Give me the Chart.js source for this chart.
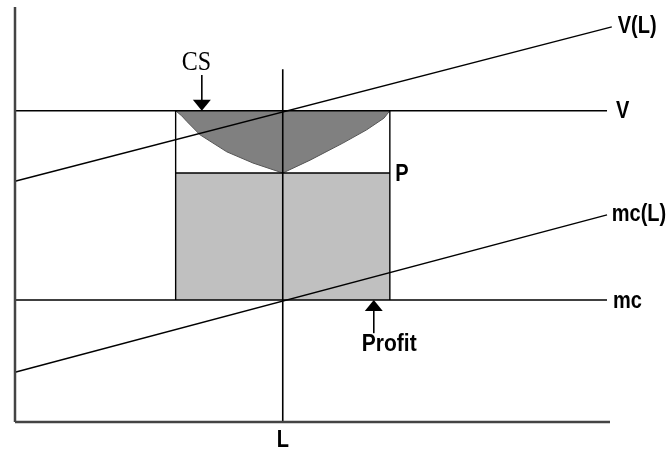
<!DOCTYPE html>
<html>
<head>
<meta charset="utf-8">
<script src="https://cdn.jsdelivr.net/npm/chart.js@4/dist/chart.umd.min.js"></script>
<style>
  body { margin: 0; background: #fff; }
  canvas { display: block; }
</style>
</head>
<body>
<canvas id="grafico" width="670" height="453"></canvas>
<script>
// niveles (unidades del grafico: eje x 0-10, eje y 0-10)
const qL = 4.5;
const qIzq = 2.7;
const qDer = 6.3;
const nivelV = 7.5;
const nivelP = 6.0;
const nivelMc = 2.94;
const finLineas = 9.95;

// curvas con pendiente
const vDeL = [{ x: 0, y: 5.8 }, { x: 10.03, y: 9.52 }];
const mcDeL = [{ x: 0, y: 1.2 }, { x: 9.95, y: 4.99 }];

// borde inferior del excedente del consumidor (CS)
const csX = [2.7, 2.8, 2.89, 3.11, 3.56, 4.0, 4.5, 4.96, 5.51, 5.91, 6.2, 6.3];
const csY = [7.5, 7.38, 7.24, 6.92, 6.51, 6.24, 6.0, 6.31, 6.72, 7.04, 7.32, 7.5];

const etiquetas = ['CS', 'V(L)', 'V', 'P', 'mc(L)', 'mc', 'Profit', 'L'];

const curvaCS = csX.map((x, i) => ({ x: x, y: csY[i] }));

function linea(puntos, color, ancho, extra) {
    return Object.assign({
        data: puntos,
        showLine: true,
        borderColor: color,
        borderWidth: ancho,
        pointRadius: 0,
        tension: 0,
        fill: false,
        clip: false,
        order: 1
    }, extra || {});
}

const datasets = [
    // ejes
    linea([{ x: 0, y: 0 }, { x: 0, y: 10 }], '#444', 2.5),
    linea([{ x: 0, y: 0 }, { x: 10, y: 0 }], '#444', 2.5),
    // horizontales
    linea([{ x: 0, y: nivelV }, { x: finLineas, y: nivelV }], '#000', 1.6),
    linea([{ x: 0, y: nivelMc }, { x: finLineas, y: nivelMc }], '#000', 1.6),
    linea([{ x: qIzq, y: nivelP }, { x: qDer, y: nivelP }], '#000', 1.6),
    // verticales
    linea([{ x: qL, y: 0 }, { x: qL, y: 8.5 }], '#000', 1.6),
    linea([{ x: qIzq, y: nivelMc }, { x: qIzq, y: nivelV }], '#000', 1.4),
    linea([{ x: qDer, y: nivelMc }, { x: qDer, y: nivelV }], '#000', 1.4),
    // V(L) y mc(L)
    linea(vDeL, '#000', 1.4),
    linea(mcDeL, '#000', 1.4),
    // areas
    linea(curvaCS, '#555', 1, { fill: { value: nivelV }, backgroundColor: '#808080', order: 2 }),
    linea([{ x: qIzq, y: nivelP }, { x: qDer, y: nivelP }], 'rgba(0,0,0,0)', 0,
        { fill: { value: nivelMc }, backgroundColor: '#c0c0c0', order: 3 })
];

// textos y flechas sobre el grafico
const rotulos = {
    id: 'rotulos',
    afterDatasetsDraw(chart) {
        const ctx = chart.ctx;
        const sx = chart.scales.x;
        const sy = chart.scales.y;
        const px = v => sx.getPixelForValue(v);
        const py = v => sy.getPixelForValue(v);

        // texto algo estirado en vertical, como en la figura original
        function texto(t, x, y, align, fuente) {
            ctx.save();
            ctx.font = fuente;
            ctx.fillStyle = '#000';
            ctx.textAlign = align;
            ctx.textBaseline = 'middle';
            ctx.translate(px(x), py(y));
            ctx.scale(1, 1.15);
            ctx.fillText(t, 0, 0);
            ctx.restore();
        }

        function flecha(x, y0, y1) {
            const x0 = px(x), a = py(y0), b = py(y1);
            const dir = b > a ? 1 : -1;
            ctx.save();
            ctx.strokeStyle = '#000';
            ctx.fillStyle = '#000';
            ctx.lineWidth = 1.6;
            ctx.beginPath();
            ctx.moveTo(x0, a);
            ctx.lineTo(x0, b - dir * 8);
            ctx.stroke();
            ctx.beginPath();
            ctx.moveTo(x0, b);
            ctx.lineTo(x0 - 9, b - dir * 11);
            ctx.lineTo(x0 + 9, b - dir * 11);
            ctx.closePath();
            ctx.fill();
            ctx.restore();
        }

        const sans = 'bold 20px "Liberation Sans", Arial, sans-serif';
        texto(etiquetas[0], 3.05, 8.65, 'center', '24px "Liberation Serif", "Times New Roman", serif');
        texto(etiquetas[1], 10.13, 9.52, 'left', sans);
        texto(etiquetas[2], 10.1, 7.47, 'left', sans);
        texto(etiquetas[3], 6.39, 5.95, 'left', sans);
        texto(etiquetas[4], 10.03, 4.99, 'left', sans);
        texto(etiquetas[5], 10.05, 2.89, 'left', sans);
        texto(etiquetas[6], 6.29, 1.86, 'center', 'bold 21px "Liberation Sans", Arial, sans-serif');
        texto(etiquetas[7], qL, -0.46, 'center', sans);

        flecha(3.14, 8.36, nivelV);
        flecha(6.03, 2.14, nivelMc);
    }
};

new Chart(document.getElementById('grafico'), {
    type: 'scatter',
    data: { datasets: datasets },
    options: {
        responsive: false,
        animation: false,
        layout: { padding: { left: 15, right: 60, top: 7, bottom: 31 } },
        scales: {
            x: { type: 'linear', min: 0, max: 10, display: false },
            y: { type: 'linear', min: 0, max: 10, display: false }
        },
        plugins: {
            legend: { display: false },
            tooltip: { enabled: false }
        }
    },
    plugins: [rotulos]
});
</script>
</body>
</html>
